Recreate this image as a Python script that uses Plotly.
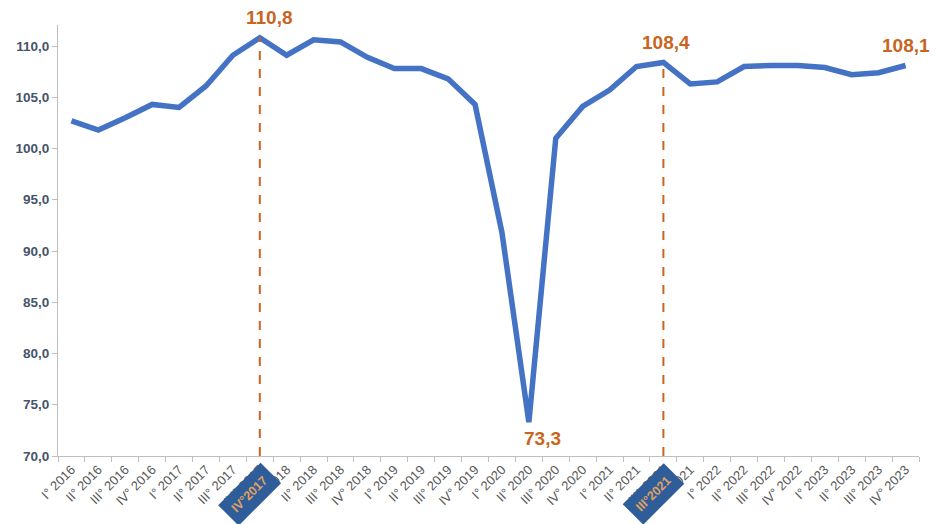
import plotly.graph_objects as go

categories = [
    "I° 2016", "II° 2016", "III° 2016", "IV° 2016",
    "I° 2017", "II° 2017", "III° 2017", "IV° 2017",
    "I° 2018", "II° 2018", "III° 2018", "IV° 2018",
    "I° 2019", "II° 2019", "III° 2019", "IV° 2019",
    "I° 2020", "II° 2020", "III° 2020", "IV° 2020",
    "I° 2021", "II° 2021", "III° 2021", "IV° 2021",
    "I° 2022", "II° 2022", "III° 2022", "IV° 2022",
    "I° 2023", "II° 2023", "III° 2023", "IV° 2023",
]
values = [
    102.7, 101.8, 103.0, 104.3,
    104.0, 106.1, 109.1, 110.8,
    109.1, 110.6, 110.4, 108.9,
    107.8, 107.8, 106.8, 104.3,
    91.8, 73.3, 101.0, 104.1,
    105.7, 108.0, 108.4, 106.3,
    106.5, 108.0, 108.1, 108.1,
    107.9, 107.2, 107.4, 108.1,
]
ytick_vals = [70, 75, 80, 85, 90, 95, 100, 105, 110]

# Highlighted points (index, label text, x shift, y shift)
labels_pts = [(7, "110,8", 10, 20), (17, "73,3", 14, -16), (22, "108,4", 3, 20), (31, "108,1", 0, 20)]
dashed_idx = [7, 22]
box_labels = {7: "IV°2017", 22: "III°2021"}

orange = "#C9651E"
blue = "#4472C4"

fig = go.Figure()

fig.add_trace(go.Scatter(
    x=categories, y=values, mode="lines",
    line=dict(color=blue, width=5.5),
    showlegend=False,
))

for i in dashed_idx:
    fig.add_trace(go.Scatter(
        x=[categories[i], categories[i]], y=[70, values[i]],
        mode="lines", line=dict(color=orange, width=2, dash="dash"),
        hoverinfo="skip", showlegend=False,
    ))

annotations = []
for i, txt, xs, ys in labels_pts:
    annotations.append(dict(
        x=categories[i], y=values[i], xref="x", yref="y",
        text=f"<b>{txt}</b>", showarrow=False,
        font=dict(family="Liberation Sans, Arial", size=19, color=orange),
        xshift=xs, yshift=ys,
    ))
for i, txt in box_labels.items():
    annotations.append(dict(
        x=categories[i], y=70, xref="x", yref="y",
        text=f"<b>{txt}</b>", showarrow=False, textangle=-45,
        font=dict(family="Liberation Sans, Arial", size=12.5, color="#E0A261"),
        bgcolor="#2E5D99", borderpad=7,
        xshift=-10, yshift=-38,
    ))

fig.update_layout(
    width=937, height=524,
    margin=dict(l=58, r=18, t=25, b=68),
    paper_bgcolor="white", plot_bgcolor="white",
    separators=",.",
    annotations=annotations,
    xaxis=dict(
        type="category", tickangle=-45, automargin=False,
        categoryorder="array", categoryarray=categories,
        tickfont=dict(family="Liberation Sans, Arial", size=13, color="#595959"),
        showline=True, linecolor="#BFBFBF", linewidth=1,
        ticks="outside", tickson="boundaries", ticklen=5, tickcolor="#BFBFBF",
        showgrid=False, zeroline=False,
        range=[-0.5, len(categories) - 0.5],
    ),
    yaxis=dict(
        range=[70, 112.05], tickvals=ytick_vals, tickformat=".1f", automargin=False,
        tickfont=dict(family="Liberation Sans, Arial", size=13.5, color="#44546A", weight="bold"),
        showline=True, linecolor="#BFBFBF", linewidth=1,
        ticks="outside", ticklen=5, tickcolor="#BFBFBF",
        showgrid=False, zeroline=False,
    ),
)

fig.write_html("out.html", config={"displayModeBar": False},
               post_script="document.body.style.margin='0';")
